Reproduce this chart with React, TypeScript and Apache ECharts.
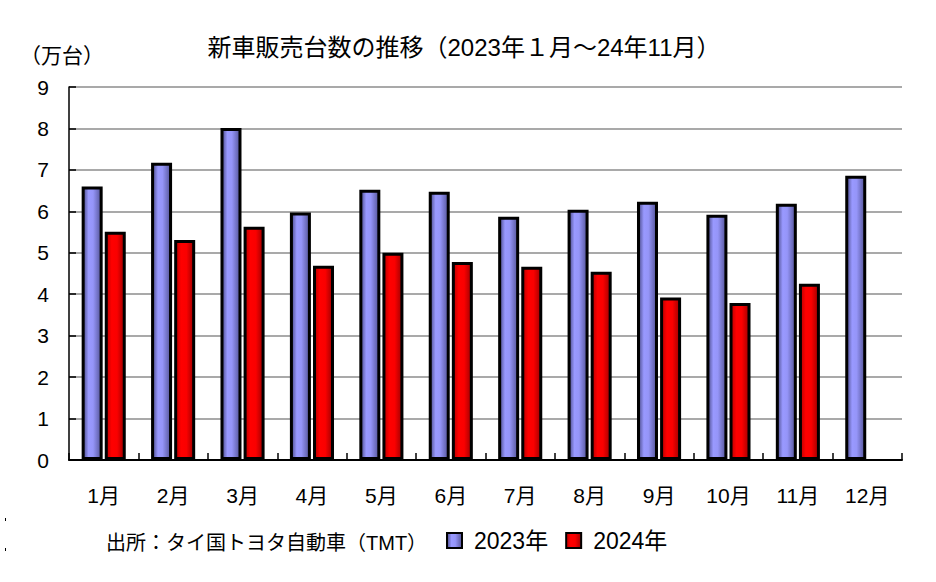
import React, { useEffect, useRef } from "react";
import * as echarts from "echarts";

const categories = ["1月", "2月", "3月", "4月", "5月", "6月", "7月", "8月", "9月", "10月", "11月", "12月"];
const series2023 = [6.6, 7.17, 8.01, 5.97, 6.52, 6.47, 5.87, 6.04, 6.23, 5.92, 6.18, 6.86];
const series2024 = [5.51, 5.31, 5.63, 4.69, 5.0, 4.78, 4.66, 4.54, 3.92, 3.79, 4.25];
const seriesNames = ["2023年", "2024年"];
const yTicks = { min: 0, max: 9, interval: 1 };
const titleText = "新車販売台数の推移（2023年１月～24年11月）";
const unitText = "（万台）";
const sourceText = "出所：タイ国トヨタ自動車（TMT）";

const FONT = "'Liberation Sans', 'Noto Sans CJK JP', sans-serif";

export default function App() {
  const ref = useRef<HTMLDivElement>(null);
  useEffect(() => {
    document.body.style.margin = "0";
    const chart = echarts.init(ref.current!, undefined, { renderer: "svg" });
    const blue = new echarts.graphic.LinearGradient(0, 0, 1, 0, [
      { offset: 0, color: "#4a4a88" },
      { offset: 0.3, color: "#9999ff" },
      { offset: 0.55, color: "#9595f8" },
      { offset: 1, color: "#555599" },
    ]);
    const red = new echarts.graphic.LinearGradient(0, 0, 1, 0, [
      { offset: 0, color: "#b80000" },
      { offset: 0.3, color: "#ff0000" },
      { offset: 0.6, color: "#fa0000" },
      { offset: 1, color: "#a00000" },
    ]);
    chart.setOption({
      animation: false,
      backgroundColor: "#ffffff",
      textStyle: { fontFamily: FONT, color: "#000" },
      grid: { left: 69, right: 34, top: 87, bottom: 122, containLabel: false, outerBoundsMode: "none" },
      legend: {
        left: 446,
        top: 529,
        padding: 0,
        itemWidth: 15,
        itemHeight: 15,
        itemGap: 17,
        icon: "rect",
        formatter: "{t|{name}}",
        textStyle: {
          fontSize: 23,
          color: "#000",
          fontFamily: FONT,
          rich: { t: { fontSize: 23, color: "#000", fontFamily: FONT, padding: [0, 0, 0, 7] } },
        },
        data: seriesNames,
      },
      xAxis: {
        type: "category",
        data: categories,
        axisLine: { lineStyle: { color: "#000", width: 2 } },
        axisTick: { show: true, inside: true, length: 7, lineStyle: { color: "#000", width: 1.5 } },
        axisLabel: { fontSize: 21, color: "#000", margin: 25, fontFamily: FONT },
        splitLine: { show: false },
      },
      yAxis: {
        type: "value",
        min: yTicks.min,
        max: yTicks.max,
        interval: yTicks.interval,
        axisLine: { show: true, lineStyle: { color: "#000", width: 1.5 } },
        axisTick: { show: true, inside: true, length: 7, lineStyle: { color: "#000", width: 1.5 } },
        axisLabel: { fontSize: 21, color: "#000", margin: 20, fontFamily: FONT },
        splitLine: { show: true, lineStyle: { color: "#8c8c8c", width: 1.5 } },
      },
      series: [
        {
          name: seriesNames[0],
          type: "bar",
          data: series2023,
          barWidth: 21,
          barGap: "10%",
          itemStyle: { color: blue, borderColor: "#000", borderWidth: 3 },
        },
        {
          name: seriesNames[1],
          type: "bar",
          data: series2024,
          barWidth: 21,
          barGap: "10%",
          itemStyle: { color: red, borderColor: "#000", borderWidth: 3 },
        },
      ],
      graphic: [
        {
          type: "text",
          x: 464,
          y: 47,
          style: {
            text: titleText,
            fontSize: 24,
            fontFamily: FONT,
            fill: "#000",
            align: "center",
            verticalAlign: "middle",
          },
        },
        {
          type: "text",
          x: 20,
          y: 55,
          style: {
            text: unitText,
            fontSize: 21,
            fontFamily: FONT,
            fill: "#000",
            align: "left",
            verticalAlign: "middle",
          },
        },
        {
          type: "text",
          x: 106,
          y: 543,
          style: {
            text: sourceText,
            fontSize: 20,
            fontFamily: FONT,
            fill: "#000",
            align: "left",
            verticalAlign: "middle",
          },
        },
        { type: "rect", shape: { x: 5, y: 518, width: 1, height: 3 }, style: { fill: "#000" } },
        { type: "rect", shape: { x: 5, y: 548, width: 1, height: 3 }, style: { fill: "#000" } },
      ],
    });
    return () => chart.dispose();
  }, []);
  return <div ref={ref} style={{ width: 936, height: 582 }} />;
}
